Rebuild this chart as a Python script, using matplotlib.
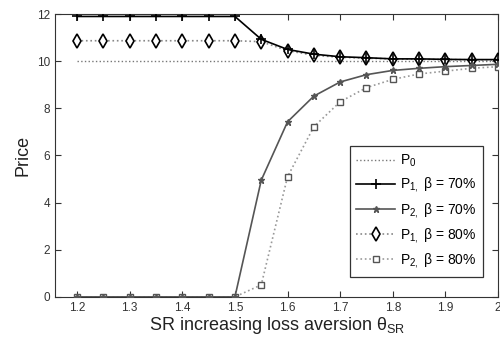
import matplotlib.pyplot as plt

plt.rcParams['font.family'] = ['Liberation Sans', 'DejaVu Sans']
plt.rcParams['mathtext.fontset'] = 'custom'
plt.rcParams['mathtext.rm'] = 'Liberation Sans'
plt.rcParams['mathtext.it'] = 'Liberation Sans'

theta = [1.2, 1.25, 1.3, 1.35, 1.4, 1.45, 1.5, 1.55, 1.6, 1.65,
         1.7, 1.75, 1.8, 1.85, 1.9, 1.95, 2.0]
p0 = [10.0] * len(theta)
p1_70 = [11.9, 11.9, 11.9, 11.9, 11.9, 11.9, 11.9, 10.93, 10.5, 10.3,
         10.19, 10.15, 10.1, 10.1, 10.08, 10.07, 10.07]
p2_70 = [0, 0, 0, 0, 0, 0, 0, 4.95, 7.43, 8.52,
         9.12, 9.43, 9.61, 9.7, 9.77, 9.82, 9.87]
p1_80 = [10.87, 10.87, 10.87, 10.87, 10.87, 10.87, 10.87, 10.83, 10.45, 10.25,
         10.17, 10.13, 10.1, 10.08, 10.07, 10.06, 10.06]
p2_80 = [0, 0, 0, 0, 0, 0, 0, 0.51, 5.1, 7.22,
         8.28, 8.88, 9.23, 9.46, 9.58, 9.7, 9.77]

fig = plt.figure(figsize=(5, 3.44), dpi=100)
ax = fig.add_axes([0.11, 0.137, 0.886, 0.822])

ax.plot(theta, p0, color='#777777', linestyle=':', linewidth=1.0, label=r'P$_{0}$')
ax.plot(theta, p1_70, color='black', linestyle='-', linewidth=1.2, marker='+',
        markersize=7, markeredgewidth=1.2, label=r'P$_{1,}$ β = 70%', zorder=4)
ax.plot(theta, p2_70, color='#555555', linestyle='-', linewidth=1.2, marker='*',
        markersize=5, label=r'P$_{2,}$ β = 70%', zorder=4)
ax.plot(theta, p1_80, color='#888888', linestyle=':', linewidth=1.2, marker='d',
        markersize=7, markerfacecolor='white', markeredgecolor='black',
        markeredgewidth=1.2, label=r'P$_{1,}$ β = 80%', zorder=3)
ax.plot(theta, p2_80, color='#999999', linestyle=':', linewidth=1.2, marker='s',
        markersize=5, markerfacecolor='white', markeredgecolor='#555555',
        markeredgewidth=1.0, label=r'P$_{2,}$ β = 80%', zorder=3)

ax.set_xlim(1.158, 2.0)
ax.set_ylim(0, 12)
ax.set_xticks([1.2, 1.3, 1.4, 1.5, 1.6, 1.7, 1.8, 1.9, 2.0])
ax.set_xticklabels(['1.2', '1.3', '1.4', '1.5', '1.6', '1.7', '1.8', '1.9', '2'])
ax.set_yticks([0, 2, 4, 6, 8, 10, 12])
ax.tick_params(direction='in', top=True, right=True, labelsize=8.5,
               length=4, colors='#333333', labelcolor='#333333')
for s in ax.spines.values():
    s.set_color('#333333')

ax.set_xlabel(r'SR increasing loss aversion $\theta_{\mathrm{SR}}$', fontsize=13,
              color='#222222', labelpad=1)
ax.set_ylabel('Price', fontsize=13, color='#222222', labelpad=4)

leg = ax.legend(loc='lower right', bbox_to_anchor=(0.966, 0.07), fontsize=10,
                fancybox=False, framealpha=1, edgecolor='#333333',
                handlelength=2.8, handletextpad=0.3, borderpad=0.5,
                labelspacing=0.45, borderaxespad=0)
leg.get_frame().set_linewidth(0.9)
leg.set_zorder(5)

fig.savefig('out.png', dpi=100)
